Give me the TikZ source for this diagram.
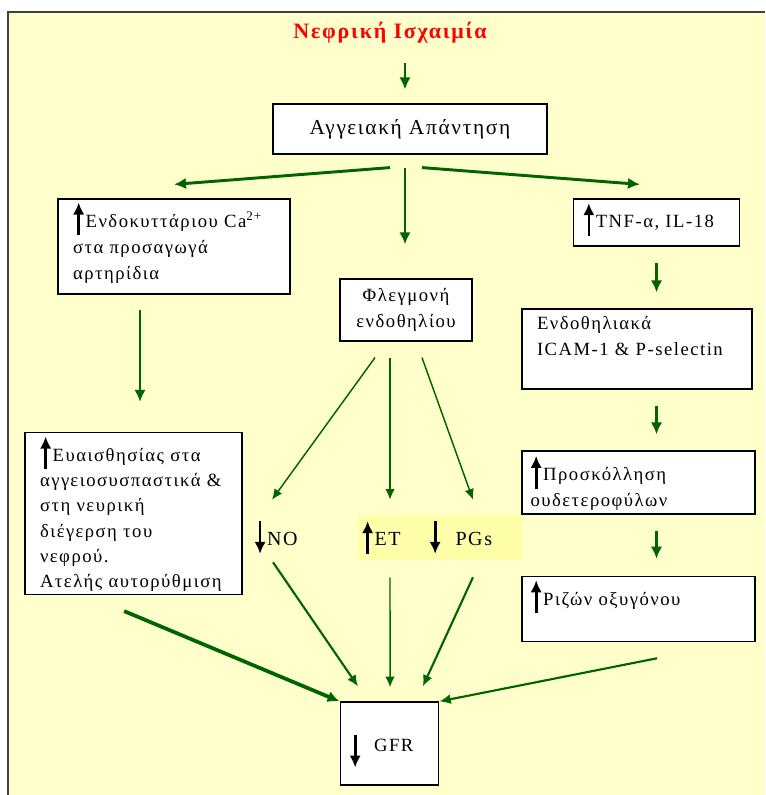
\documentclass[tikz,border=0pt]{standalone}
\usepackage{fontspec}
\setmainfont{Liberation Serif}[LetterSpace=8]
\usetikzlibrary{arrows,arrows.meta,positioning,shapes}

\definecolor{bgyellow}{HTML}{FFFFCC}
\definecolor{hlyellow}{HTML}{FFFFAA}
\definecolor{flowgreen}{HTML}{006400}

% thick black arrows used inside the texts
\newcommand{\upr}{\tikz[baseline=0pt,x=1pt,y=1pt]\draw[black,-{Latex[length=9pt,width=8.5pt]},line width=2pt] (0,-6) -- (0,18.5);\hspace{1pt}}
\newcommand{\dnr}{\tikz[baseline=0pt,x=1pt,y=1pt]\draw[black,-{Latex[length=9pt,width=8.5pt]},line width=2pt] (0,18.5) -- (0,-6);\hspace{1pt}}

\begin{document}
\begin{tikzpicture}[x=0.75pt,y=-0.75pt]
			\tikzstyle{box} = [rectangle, draw, fill=white, line width=0.9pt, inner ysep=2pt, align=left, font=\fontsize{14}{19.5}\selectfont]
			\tikzstyle{cbox} = [box, align=center]
			\tikzstyle{label} = [draw=none, inner sep=0pt, minimum height=33.75pt, align=left, font=\fontsize{15}{16}\selectfont]
			\tikzstyle{arrow} = [draw=flowgreen, -{Latex[length=9pt,width=8.5pt]}, line width=2.2pt]
			\tikzstyle{thin} = [draw=flowgreen, -{Latex[length=8pt,width=7pt]}, line width=1.1pt]
			\tikzstyle{mid} = [draw=flowgreen, -{Latex[length=8.5pt,width=7.5pt]}, line width=1.6pt]

			% frame
			\useasboundingbox (0,0) rectangle (765,795);
			\fill[bgyellow] (8,12) rectangle (765,795);
			\draw[line width=1.5pt, black!75] (8,795) -- (8,12) -- (765,12);

			\node [draw=none, text=red, font=\fontsize{16.5}{18}\selectfont\bfseries] (isch) at (390,33) {Νεφρική Ισχαιμία};
			\node [cbox, minimum width=205.5pt, minimum height=37.5pt, font=\fontsize{16}{19}\selectfont] (vasc) at (410,129) {Αγγειακή Απάντηση};

			\node [box, text width=151.5pt, inner xsep=11.25pt, inner ysep=0pt, minimum height=71.25pt] (ca) at (174,246.5) {\upr Ενδοκυττάριου Ca\textsuperscript{2+}\\στα προσαγωγά\\αρτηρίδια\\[-10pt]\mbox{}};
			\node [box, text width=110pt, inner xsep=7.5pt, inner ysep=0pt, minimum height=35.25pt] (tnf) at (656.5,222.5) {\upr TNF-α, IL-18\\[-8pt]\mbox{}};
			\node [cbox, minimum width=99pt, minimum height=46.5pt] (flegm) at (406,310) {Φλεγμονή\\ενδοθηλίου};

			\node [box, text width=150pt, inner xsep=11.25pt, minimum height=60pt] (icam) at (637,349) {Ενδοθηλιακά\\ICAM-1 \& P-selectin\\\mbox{}};
			\node [box, text width=162pt, inner xsep=6.4pt, minimum height=47.25pt] (neutro) at (638.5,482.5) {\upr Προσκόλληση\\ουδετεροφύλων};
			\node [box, text width=162pt, inner xsep=6.4pt, minimum height=48pt] (ros) at (638.5,609) {\upr Ριζών οξυγόνου\\[6pt]\mbox{}};

			\node [box, text width=140.25pt, inner xsep=11.25pt, minimum height=117.75pt, font=\fontsize{14}{19}\selectfont] (sens) at (133.5,513.5) {\upr Ευαισθησίας στα\\αγγειοσυσπαστικά \&\\στη νευρική\\διέγερση του\\νεφρού.\\Ατελής αυτορύθμιση};

			\node [label] (no) at (276,537.5) {\dnr NO};
			\node [label, fill=hlyellow, minimum width=52.5pt, text width=45pt, inner xsep=3.75pt] (et) at (392,537.5) {\upr ET};
			\node [label, fill=hlyellow, minimum width=69.75pt, text width=66pt, inner xsep=3pt] (pgs) at (473.5,537.5) {\dnr\ \ PGs};

			\node [box, text width=60pt, inner xsep=7pt, minimum height=62.25pt] (gfr) at (389.5,743.5) {\rule{0pt}{25pt}\raisebox{-6pt}{\dnr}\hspace{9pt}GFR};

			% connectors
			\draw[arrow] ([xshift=11.25pt,yshift=-11.25pt]isch.south) -- ([xshift=-3.75pt,yshift=10.5pt]vasc.north);
			\draw[arrow] ([xshift=-15pt,yshift=-9.75pt]vasc.south) -- ([yshift=10.5pt]ca.north);
			\draw[arrow] ([xshift=-3.75pt,yshift=-9.75pt]vasc.south) -- ([xshift=-0.75pt,yshift=25.5pt]flegm.north);
			\draw[arrow] ([xshift=9pt,yshift=-9.75pt]vasc.south) -- ([xshift=-12.4pt,yshift=10.5pt]tnf.north);

			\draw[arrow, shorten <=12pt, shorten >=12pt] (tnf.south) -- (tnf.south |- icam.north);
			\draw[arrow, shorten <=12pt, shorten >=12pt] (tnf.south |- icam.south) -- (tnf.south |- neutro.north);
			\draw[arrow, shorten <=12pt, shorten >=12.75pt] (tnf.south |- neutro.south) -- (tnf.south |- ros.north);
			\draw[arrow, shorten <=11.25pt, shorten >=22.5pt] ([xshift=-25.5pt]ca.south) -- ([xshift=-25.5pt]ca.south |- sens.north);

			\draw[thin] ([xshift=-23.25pt,yshift=-12pt]flegm.south) -- ([xshift=-3pt,yshift=11.25pt]no.north);
			\draw[thin] ([xshift=-12pt,yshift=-12pt]flegm.south) -- ([xshift=-1.5pt,yshift=11.25pt]et.north);
			\draw[thin] ([xshift=12pt,yshift=-12pt]flegm.south) -- ([xshift=-0.4pt,yshift=11.25pt]pgs.north);

			\draw[mid] ([xshift=-2.25pt,yshift=-1.5pt]no.south) -- ([xshift=-23.6pt,yshift=11.25pt]gfr.north);
			\draw[thin] ([xshift=-1.5pt,yshift=-12.75pt]et.south) -- ([xshift=0.4pt,yshift=10.5pt]gfr.north);
			\draw[mid] ([xshift=-0.4pt,yshift=-12.75pt]pgs.south) -- ([xshift=25pt,yshift=11.25pt]gfr.north);
			\draw[arrow, line width=2.8pt] ([xshift=-7pt,yshift=-12pt]sens.south) -- (gfr.north west);
			\draw[mid] ([xshift=13.9pt,yshift=-12pt]ros.south) -- (gfr.north east);
		\end{tikzpicture}
\end{document}
